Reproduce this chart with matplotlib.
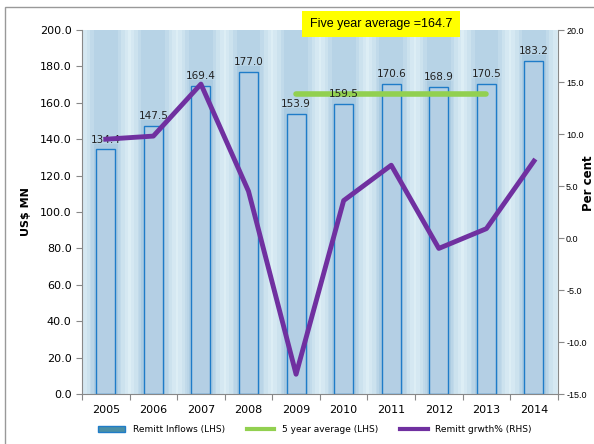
import matplotlib
matplotlib.use("Agg")
from matplotlib import pyplot as plt
from matplotlib.patches import Rectangle
from matplotlib.lines import Line2D
from matplotlib.patches import Patch

years = ["2005", "2006", "2007", "2008", "2009", "2010", "2011", "2012", "2013", "2014"]
inflows = [134.4, 147.5, 169.4, 177.0, 153.9, 159.5, 170.6, 168.9, 170.5, 183.2]
growth = [9.5, 9.8, 14.8, 4.5, -13.1, 3.6, 7.0, -1.0, 0.9, 7.4]
avg_years = ["2009", "2010", "2011", "2012", "2013"]
avg_value = 164.7


def main():
    fig = plt.figure(figsize=(5.94, 4.44), dpi=100)
    ax = fig.add_axes([0.138, 0.1126, 0.801, 0.8198])
    ax.set_facecolor("#ddeef5")

    x = list(range(len(years)))
    # soft glow behind each bar
    for w, a in [(0.95, 0.1), (0.8, 0.13), (0.65, 0.18), (0.5, 0.22)]:
        ax.bar(x, [200] * len(x), width=w, color="#94bbd9", alpha=a, linewidth=0, zorder=1)
    for w, a in [(0.6, 0.15), (0.5, 0.2)]:
        ax.bar(x, [v + 3 for v in inflows], width=w, color="#94bbd9", alpha=a, linewidth=0, zorder=1)
    ax.bar(x, inflows, width=0.4, color="#b4cfe4", edgecolor="#1f7cc8", linewidth=1.0, zorder=2)

    for xi, v in zip(x, inflows):
        ax.text(xi, v + 2.5, f"{v:.1f}", ha="center", va="bottom", fontsize=7.5, color="#222222", zorder=5)

    ax_x = [years.index(y) for y in avg_years]
    ax.plot(ax_x, [avg_value] * len(ax_x), color="#92d050", linewidth=4, solid_capstyle="round", zorder=3)

    ax.set_xlim(-0.5, 9.5)
    ax.set_ylim(0, 200)
    ax.set_yticks([i * 20 for i in range(11)])
    ax.set_yticklabels([f"{i * 20:.1f}" for i in range(11)], fontsize=8)
    ax.set_xticks([i - 0.5 for i in range(11)])
    ax.set_xticklabels([])
    ax.set_xticks(x, minor=True)
    ax.set_xticklabels(years, minor=True, fontsize=8)
    ax.tick_params(axis="x", which="minor", length=0, pad=8)
    ax.tick_params(axis="x", which="major", length=4, color="#888888")
    ax.tick_params(axis="y", length=4, color="#888888")
    for s in ["top", "right"]:
        ax.spines[s].set_visible(False)
    for s in ["left", "bottom"]:
        ax.spines[s].set_color("#888888")
    ax.set_ylabel("US$ MN", fontsize=8, fontweight="bold", labelpad=6)

    ax2 = ax.twinx()
    ax2.plot(x, growth, color="#7030a0", linewidth=3.5, zorder=4)
    ax2.set_ylim(-15, 20)
    ax2.set_yticks([-15, -10, -5, 0, 5, 10, 15, 20])
    ax2.set_yticklabels([f"{v:.1f}" for v in [-15, -10, -5, 0, 5, 10, 15, 20]],
                        fontsize=6.5, family="Liberation Sans")
    ax2.tick_params(axis="y", length=4, pad=2, color="#888888")
    for s in ["top", "left", "bottom"]:
        ax2.spines[s].set_visible(False)
    ax2.spines["right"].set_color("#888888")
    fig.text(589 / 594, 1 - 183 / 444, "Per cent", rotation=90, ha="center", va="center",
             fontsize=8.5, fontweight="bold")

    fig.add_artist(Rectangle((302 / 594, 1 - 37 / 444), 158 / 594, 26 / 444,
                             transform=fig.transFigure, facecolor="#ffff00", edgecolor="none"))
    fig.text(381 / 594, 1 - 24 / 444, "Five year average =164.7", ha="center", va="center",
             fontsize=9, family="Liberation Sans")

    handles = [
        Patch(facecolor="#4a8fa6", edgecolor="#1f7cc8", label="Remitt Inflows (LHS)"),
        Line2D([0], [0], color="#92d050", linewidth=3, label="5 year average (LHS)"),
        Line2D([0], [0], color="#7030a0", linewidth=3, label="Remitt grwth% (RHS)"),
    ]
    fig.legend(handles=handles, loc="center", bbox_to_anchor=(0.53, 0.032), ncol=3,
               fontsize=6.5, frameon=False, handlelength=3, columnspacing=2.5)

    fig.add_artist(Rectangle((0.009, -0.01), 0.995, 0.995, transform=fig.transFigure,
                             fill=False, edgecolor="#999999", linewidth=1))

    fig.savefig("out.png", dpi=100)


if __name__ == "__main__":
    main()
